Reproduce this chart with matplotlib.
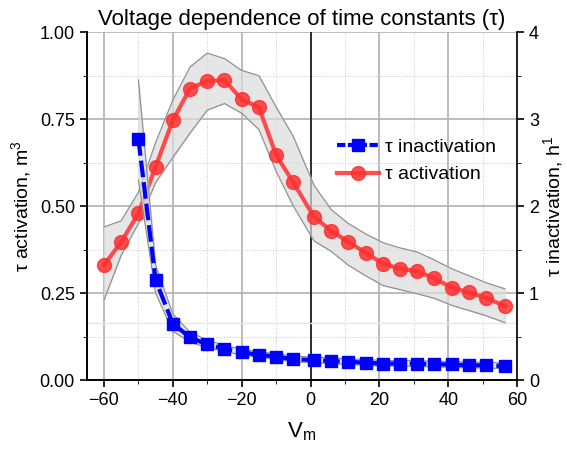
import matplotlib.pyplot as plt
from matplotlib.ticker import MultipleLocator
from matplotlib.lines import Line2D

plt.rcParams['font.family'] = ['Liberation Sans', 'DejaVu Sans']

# tau activation (left axis, m^3)
v_act = [-60, -55, -50, -45, -40, -35, -30, -25, -20, -15, -10, -5,
         1, 6, 11, 16, 21, 26, 31, 36, 41, 46, 51, 56.5]
tau_act = [0.330, 0.397, 0.479, 0.613, 0.747, 0.838, 0.860, 0.862, 0.807, 0.784,
           0.647, 0.568, 0.469, 0.429, 0.397, 0.366, 0.335, 0.320, 0.313, 0.292,
           0.266, 0.252, 0.236, 0.213]
act_hi = [0.44, 0.458, 0.54, 0.683, 0.805, 0.90, 0.94, 0.924, 0.89, 0.875,
          0.785, 0.70, 0.56, 0.49, 0.45, 0.42, 0.395, 0.38, 0.368, 0.345,
          0.32, 0.30, 0.28, 0.262]
act_lo = [0.23, 0.359, 0.45, 0.568, 0.64, 0.71, 0.776, 0.795, 0.767, 0.72,
          0.60, 0.50, 0.40, 0.37, 0.33, 0.30, 0.272, 0.26, 0.248, 0.235,
          0.215, 0.20, 0.185, 0.165]

# tau inactivation (right axis, h^1)
v_inact = [-50, -45, -40, -35, -30, -25, -20, -15, -10, -5,
           1, 6, 11, 16, 21, 26, 31, 36, 41, 46, 51, 56.5]
tau_inact = [2.77, 1.15, 0.65, 0.49, 0.41, 0.36, 0.32, 0.29, 0.27, 0.24,
             0.23, 0.22, 0.21, 0.20, 0.19, 0.19, 0.19, 0.18, 0.18, 0.17, 0.17, 0.16]
inact_hi = [3.45, 1.32, 0.76, 0.55, 0.46, 0.40, 0.355, 0.325, 0.305, 0.275,
            0.265, 0.255, 0.245, 0.235, 0.225, 0.225, 0.225, 0.215, 0.215, 0.205, 0.205, 0.195]
inact_lo = [2.3, 1.0, 0.56, 0.44, 0.37, 0.33, 0.29, 0.26, 0.24, 0.21,
            0.20, 0.19, 0.18, 0.17, 0.16, 0.16, 0.16, 0.15, 0.15, 0.14, 0.14, 0.13]

fig = plt.figure(figsize=(5.67, 4.53), dpi=100)
ax = fig.add_axes([0.153, 0.161, 0.759, 0.768])
ax2 = ax.twinx()

# grid
ax.set_xlim(-65, 60)
ax.set_ylim(0, 1)
ax2.set_ylim(0, 4)
ax.xaxis.set_major_locator(MultipleLocator(20))
ax.xaxis.set_minor_locator(MultipleLocator(10))
ax.yaxis.set_major_locator(MultipleLocator(0.25))
ax.yaxis.set_minor_locator(MultipleLocator(0.125))
ax2.yaxis.set_major_locator(MultipleLocator(1))
ax2.yaxis.set_minor_locator(MultipleLocator(0.5))
ax.grid(which='major', color='#b0b0b0', lw=1.2)
ax.grid(which='minor', color='#c8c8c8', lw=0.7, ls=':')
ax.axvline(0, color='#222222', lw=1.3)
ax.axhline(0.165, color='#e6e6e6', lw=1)
ax.set_axisbelow(True)

# bands
ax.fill_between(v_act, act_lo, act_hi, color='#dcdcdc', alpha=0.7, zorder=2)
ax.plot(v_act, act_hi, color='#8c8c8c', lw=0.8, zorder=2)
ax.plot(v_act, act_lo, color='#8c8c8c', lw=0.8, zorder=2)
ax2.fill_between(v_inact, inact_lo, inact_hi, color='#dcdcdc', alpha=0.7, zorder=2)
ax2.plot(v_inact, inact_hi, color='#8c8c8c', lw=0.8, zorder=2)
ax2.plot(v_inact, inact_lo, color='#8c8c8c', lw=0.8, zorder=2)

# series
ax.plot(v_act, tau_act, color='#ff3030', lw=3, alpha=0.85, marker='o', ms=10,
        zorder=3)
ax2.plot(v_inact, tau_inact, color='#0000ff', lw=3, ls=(0, (4, 1.2)), marker='s',
         ms=9, zorder=3)

# axes cosmetics
for a in (ax, ax2):
    a.spines['top'].set_visible(False)
    a.spines['left'].set_linewidth(1.2)
    a.spines['right'].set_linewidth(1.2)
    a.spines['bottom'].set_linewidth(1.2)
    a.tick_params(which='both', direction='out', labelsize=13)
    a.tick_params(which='major', length=5, width=1.2)
    a.tick_params(which='minor', length=3)
ax.spines['right'].set_visible(False)
ax.set_yticks([0, 0.25, 0.5, 0.75, 1.0])
ax.set_yticklabels(['0.00', '0.25', '0.50', '0.75', '1.00'])

ax.set_title('Voltage dependence of time constants (\u03c4)', fontsize=16, pad=5)
ax.set_xlabel('V$_\\mathregular{m}$', fontsize=16, labelpad=8)
ax.set_ylabel('\u03c4 activation, m$^\\mathregular{3}$', fontsize=14)
ax2.set_ylabel('\u03c4 inactivation, h$^\\mathregular{1}$', fontsize=14, labelpad=2)

handles = [Line2D([], [], color='#0000ff', lw=3, ls=(0, (2, 0.6)), marker='s', ms=9),
           Line2D([], [], color='#ff3030', lw=3, alpha=0.85, marker='o', ms=10)]
ax2.legend(handles, ['\u03c4 inactivation', '\u03c4 activation'], frameon=False,
           fontsize=14, loc='upper left', bbox_to_anchor=(0.54, 0.745),
           handlelength=2.2, handletextpad=0.3, labelspacing=0.5)

fig.savefig('out.png', dpi=100)
